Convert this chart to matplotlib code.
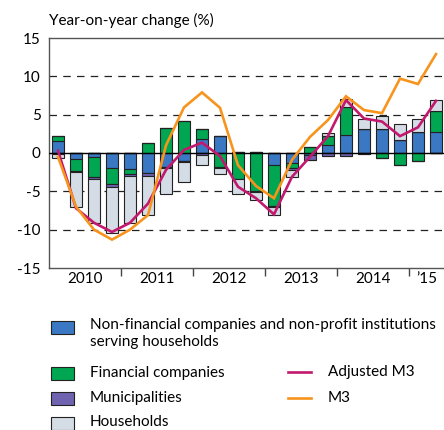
import matplotlib
matplotlib.use("Agg")
import matplotlib.pyplot as plt
from matplotlib.patches import Rectangle
from matplotlib.lines import Line2D
import numpy as np

plt.rcParams['font.family'] = ['Lato', 'DejaVu Sans']

# Quarterly data 2010Q1 .. 2015Q2
quarters = ["2010Q1", "2010Q2", "2010Q3", "2010Q4", "2011Q1", "2011Q2", "2011Q3", "2011Q4",
            "2012Q1", "2012Q2", "2012Q3", "2012Q4", "2013Q1", "2013Q2", "2013Q3", "2013Q4",
            "2014Q1", "2014Q2", "2014Q3", "2014Q4", "2015Q1", "2015Q2"]
nonfin = [1.6, -0.8, -0.5, -1.9, -2.1, -2.65, -1.8, -1.0, 1.8, 2.2, 0.1, 0.1,
          -1.55, -1.35, -0.3, 1.05, 2.35, 3.1, 3.1, 1.7, 2.7, 2.8]
financial = [0.6, -1.6, -2.6, -2.2, -0.7, 1.3, 3.2, 4.2, 1.3, -1.8, -3.4, -5.0,
             -5.4, -0.65, 0.75, 1.2, 3.6, 0.0, -0.7, -1.5, -1.1, 2.7]
municipal = [-0.1, -0.1, -0.3, -0.35, -0.2, -0.4, -0.2, -0.2, -0.3, -0.1, -0.05, -0.05,
             -0.05, -0.2, -0.6, -0.35, -0.35, -0.1, 0.0, 0.0, 0.0, 0.0]
households = [-0.5, -4.6, -5.7, -6.0, -6.1, -5.0, -3.4, -2.6, -1.3, -0.8, -1.9, -1.1,
              -1.1, -0.9, 0.0, 0.35, 1.05, 1.4, 1.7, 2.05, 1.8, 1.35]
adjusted_m3 = [0.3, -7.2, -9.1, -10.3, -9.1, -6.6, -2.2, 0.4, 1.35, -0.4, -4.4, -5.9,
               -8.0, -3.1, -0.5, 2.2, 6.9, 4.5, 4.1, 2.2, 3.35, 6.8]
m3 = [-0.5, -7.0, -10.0, -11.3, -10.0, -8.1, 1.0, 5.95, 7.9, 5.9, -1.6, -4.3,
      -5.9, -0.9, 2.1, 4.3, 7.4, 5.6, 5.2, 9.7, 9.0, 12.9]
year_labels = ["2010", "2011", "2012", "2013", "2014", "\u201915"]

series = [nonfin, financial, municipal, households]
names = ["Non-financial companies and non-profit institutions\nserving households",
         "Financial companies", "Municipalities", "Households"]
colors = ["#3b78c3", "#00a651", "#6f63b0", "#d4dce5"]
c_adj = "#c2186e"
c_m3 = "#f7941d"

W, H = 444, 430
fig = plt.figure(figsize=(W / 100, H / 100), dpi=100)

def fx(px):
    return px / W

def fy(py):
    return 1 - py / H

ax = fig.add_axes([fx(49), fy(268), fx(445) - fx(49), fy(38) - fy(268)])

x = np.arange(len(quarters))
pos_base = np.zeros(len(x))
neg_base = np.zeros(len(x))
for vals, col in zip(series, colors):
    v = np.array(vals)
    pos = np.where(v > 0, v, 0)
    neg = np.where(v < 0, v, 0)
    ax.bar(x, pos, 0.72, bottom=pos_base, color=col, edgecolor="#222222", linewidth=0.8, zorder=3)
    ax.bar(x, neg, 0.72, bottom=neg_base, color=col, edgecolor="#222222", linewidth=0.8, zorder=3)
    pos_base += pos
    neg_base += neg

ax.plot(x, adjusted_m3, color=c_adj, lw=1.9, zorder=5, solid_joinstyle="miter")
ax.plot(x, m3, color=c_m3, lw=1.9, zorder=6, solid_joinstyle="miter")

ax.axhline(0, color="black", lw=1.0, zorder=4)
for yv in [-10, -5, 5, 10]:
    ax.axhline(yv, color="#222222", lw=0.9, dashes=(6, 5), zorder=1)

ax.set_xlim(-0.5, 21.5)
ax.set_ylim(-15, 15)
ax.set_yticks([-15, -10, -5, 0, 5, 10, 15])
ax.set_yticklabels(["-15", "-10", "-5", "0", "5", "10", "15"])
ax.tick_params(axis="y", length=0, labelsize=11, pad=6)

ax.set_xticks([3.5, 7.5, 11.5, 15.5, 19.5])
ax.set_xticklabels([])
ax.tick_params(axis="x", which="major", direction="out", length=6, width=1, color="#444444")
ax.set_xticks([1.5, 5.5, 9.5, 13.5, 17.5, 20.5], minor=True)
ax.set_xticklabels(year_labels, minor=True)
ax.tick_params(axis="x", which="minor", length=0, labelsize=11, pad=3)

for s in ["left", "top", "bottom"]:
    ax.spines[s].set_color("#555555")
    ax.spines[s].set_linewidth(1.0)
ax.spines["right"].set_visible(False)

fig.text(fx(49), fy(20), "Year-on-year change (%)", fontsize=11, va="center", ha="left")

# legend
fs = 11
legend_rows = [327, 373, 398, 424]
for yc, col, name in zip(legend_rows, colors, names):
    fig.add_artist(Rectangle((fx(51), fy(yc + 6.5)), fx(23), fy(yc - 6.5) - fy(yc + 6.5),
                             facecolor=col, edgecolor="#222222", linewidth=0.8,
                             transform=fig.transFigure))
    if "\n" in name:
        fig.text(fx(90), fy(yc - 9), name, fontsize=fs, va="top", ha="left", linespacing=1.3)
    elif name == "Households":
        fig.text(fx(90), fy(yc - 2), name, fontsize=fs, va="center", ha="left")
    else:
        fig.text(fx(90), fy(yc), name, fontsize=fs, va="center", ha="left")

for yc, col, name in zip([372, 398], [c_adj, c_m3], ["Adjusted M3", "M3"]):
    fig.add_artist(Line2D([fx(288), fx(311)], [fy(yc), fy(yc)], color=col, lw=1.9,
                          transform=fig.transFigure))
    fig.text(fx(328), fy(yc), name, fontsize=fs, va="center", ha="left")

fig.savefig("out.png", dpi=100)
